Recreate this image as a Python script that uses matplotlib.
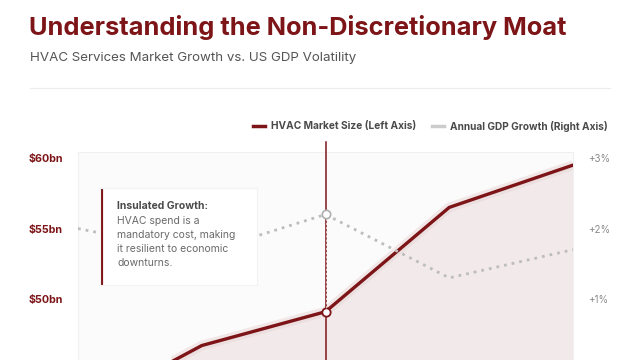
import matplotlib.pyplot as plt
from matplotlib.lines import Line2D

plt.rcParams['font.family'] = ['Inter', 'DejaVu Sans']

# data
years = [2020, 2021, 2022, 2023, 2024]
hvac_bn = [42.0, 46.7, 49.1, 56.5, 59.5]
gdp_pct = [2.0, 1.65, 2.2, 1.3, 1.7]
focus_idx = 2
left_ticks = [50, 55, 60]
left_labels = ['$50bn', '$55bn', '$60bn']
right_ticks = [1, 2, 3]
right_labels = ['+1%', '+2%', '+3%']

RED = '#7d1518'
GRAY_LINE = '#bdbdbd'

fig = plt.figure(figsize=(6.4, 3.6), dpi=100)
fig.patch.set_facecolor('white')

fig.text(29 / 640, 1 - 27 / 360, 'Understanding the Non-Discretionary Moat',
         fontsize=18.3, fontweight='bold', color=RED, va='center', ha='left')
fig.text(30 / 640, 1 - 58 / 360, 'HVAC Services Market Growth vs. US GDP Volatility',
         fontsize=9.6, color='#555555', va='center', ha='left')
fig.add_artist(Line2D([30 / 640, 610 / 640], [1 - 88 / 360, 1 - 88 / 360],
                      color='#ececec', lw=0.8))

# axes extend below the canvas, as in the cropped reference
ax = fig.add_axes([78 / 640, 1 - 440 / 360, 495 / 640, 288 / 360])
ax.set_facecolor('#fcfbfb')
x = list(range(len(years)))
ax.set_xlim(0, len(years) - 1)
ax.set_ylim(40, 60.43)
for s in ax.spines.values():
    s.set_color('#f0f0f0')
    s.set_linewidth(0.8)

ax.fill_between(x, hvac_bn, 40, color='#efe3e3', alpha=0.7, lw=0, zorder=1)
ax.plot(x, hvac_bn, color='#e8d5d5', lw=7, alpha=0.5, zorder=2, solid_capstyle='butt')
ax.plot(x, hvac_bn, color=RED, lw=2.4, zorder=4)
ax.set_yticks(left_ticks)
ax.set_yticklabels(left_labels)
ax.tick_params(axis='y', length=0, pad=11, labelsize=7.7, labelcolor=RED)
for t in ax.get_yticklabels():
    t.set_fontweight('bold')
ax.set_xticks([])

ax2 = ax.twinx()
ax2.set_ylim((40 - 45) / 5, (60.43 - 45) / 5)
ax2.plot(x, gdp_pct, color=GRAY_LINE, lw=2, linestyle=(0, (1, 1.8)), zorder=3)
ax2.set_yticks(right_ticks)
ax2.set_yticklabels(right_labels)
ax2.tick_params(axis='y', length=0, pad=11, labelsize=7, labelcolor='#8a8a8a')
for s in ax2.spines.values():
    s.set_visible(False)

# focus year marker
ax.axvline(focus_idx, ymin=0, ymax=1.035, color=RED, lw=1.1, clip_on=False, zorder=5)
ax2.plot([focus_idx, focus_idx], [(hvac_bn[focus_idx] - 45) / 5, gdp_pct[focus_idx]],
         color='white', lw=0.5, linestyle=(0, (3, 3)), zorder=6)
ax.plot(focus_idx, hvac_bn[focus_idx], 'o', ms=6, mfc='white', mec=RED, mew=1.3, zorder=7)
ax2.plot(focus_idx, gdp_pct[focus_idx], 'o', ms=6, mfc='white', mec='#b0b0b0', mew=1.2, zorder=7)

# annotation box
box = fig.add_axes([100 / 640, 1 - 285 / 360, 157 / 640, 97 / 360])
box.set_xticks([])
box.set_yticks([])
box.set_facecolor('white')
for s in box.spines.values():
    s.set_color('#f3f3f3')
box.add_artist(Line2D([0.008, 0.008], [0, 1], color=RED, lw=3, transform=box.transAxes))
box.text(17 / 157, 1 - 18 / 97, 'Insulated Growth:', transform=box.transAxes,
         fontsize=7.5, fontweight='bold', color='#4a4a4a', va='center')
box.text(17 / 157, 1 - 28 / 97,
         'HVAC spend is a\nmandatory cost, making\nit resilient to economic\ndownturns.',
         transform=box.transAxes, fontsize=7.5, color='#6a6a6a', va='top', linespacing=1.52)

handles = [Line2D([], [], color=RED, lw=2.5),
           Line2D([], [], color='#cccccc', lw=2.5)]
fig.legend(handles, ['HVAC Market Size (Left Axis)', 'Annual GDP Growth (Right Axis)'],
           loc='center right', bbox_to_anchor=(617 / 640, 1 - 126 / 360), ncol=2,
           frameon=False, handlelength=1.2, handletextpad=0.6, columnspacing=1.5,
           prop={'size': 7.3, 'weight': 'bold'}, labelcolor='#4a4a4a')

fig.savefig('out.png', dpi=100)
